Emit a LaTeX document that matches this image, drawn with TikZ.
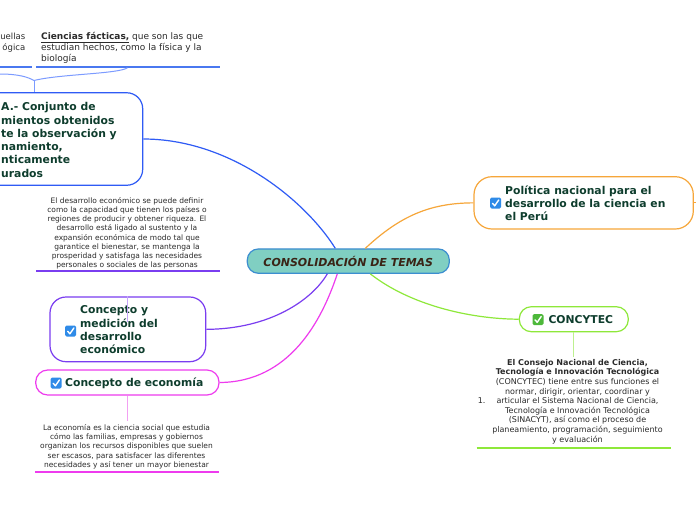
\documentclass[tikz,border=0pt]{standalone}
\usepackage{fontspec}
\setmainfont{DejaVu Sans}
\definecolor{cblue}{HTML}{2F5BF5}
\definecolor{lblue}{HTML}{7C9BFF}
\definecolor{ublue}{HTML}{4A78F0}
\definecolor{cpurp}{HTML}{7A3DF0}
\definecolor{lpurp}{HTML}{C6A6FA}
\definecolor{cmag}{HTML}{EE3BEE}
\definecolor{lmag}{HTML}{F2A0F2}
\definecolor{corange}{HTML}{F6A63A}
\definecolor{cgreen}{HTML}{8EE83A}
\definecolor{lgreen}{HTML}{BDF08F}
\definecolor{cenfill}{HTML}{80CFC2}
\definecolor{cenline}{HTML}{3C8ED0}
\definecolor{centxt}{HTML}{3A2416}
\definecolor{ntxt}{HTML}{0E3D2D}
\definecolor{stxt}{HTML}{2B2B2B}
\definecolor{chkblue}{HTML}{2F8BE8}
\definecolor{chkgreen}{HTML}{4DB83A}
\tikzset{
  pics/chkbox/.style={code={
    \fill[#1, rounded corners=1.5pt] (-5.5,-5.5) rectangle (5.5,5.5);
    \draw[white, line width=1.4pt, line cap=round, line join=round] (-3,0.3) -- (-0.8,2.8) -- (3.2,-3);
  }},
}
\begin{document}
\begin{tikzpicture}[x=1pt,y=-1pt,
  box/.style={rounded corners=#1, line width=1.2pt, fill=white, inner sep=0pt},
  ntext/.style={font=\fontsize{10.8}{13.3}\selectfont\bfseries, text=ntxt, align=left, inner sep=0pt},
  small/.style={font=\fontsize{7.5}{9.2}\selectfont, text=stxt, align=center, inner sep=0pt},
  conn/.style={line width=1.2pt},
  uline/.style={line width=2pt},
  thinc/.style={line width=1pt},
]
\useasboundingbox (0,0) rectangle (696,520);
\fill[white] (0,0) rectangle (696,520);
\clip (0,0) rectangle (696,520);

% central node
\node[box=11pt, draw=cenline, fill=cenfill, minimum width=202pt, minimum height=24.3pt,
      font=\fontsize{11}{12}\selectfont\bfseries\itshape, text=centxt] (central) at (348.3,261.1) {CONSOLIDACIÓN DE TEMAS};

% top-left boxes
\node[box=16pt, draw=cblue, minimum width=220pt, minimum height=92.5pt, anchor=east] (ciencia) at (143.3,139) {};
\node[ntext, anchor=west] (cienciatxt) at (1,140) {A.- Conjunto de\\mientos obtenidos\\te la observación y\\namiento,\\nticamente\\urados};

\node[anchor=east, align=right, font=\fontsize{8.5}{11.3}\selectfont, text=stxt, inner sep=0pt] (formales) at (25.5,42.5) {uellas\\ógica};
\node[anchor=west, align=left, font=\fontsize{9}{11.2}\selectfont, text=stxt, inner sep=0pt] (facticas) at (41,47.8)
  {\underline{\textbf{Ciencias fácticas,}} que son las que\\estudian hechos, como la física y la\\biología};
\draw[uline, ublue] (0,66.7) -- (31.7,66.7);
\draw[uline, ublue] (36,66.7) -- (220,66.7);
\coordinate (jn) at (34,80.5);
\draw[thinc, lblue] (127.5,67.8) .. controls (118,74) and (60,74) .. (jn);
\draw[thinc, lblue] (0,74) .. controls (18,74) and (28,77) .. (jn);
\draw[thinc, lblue] (jn) -- (jn |- ciencia.north);

% desarrollo
\node[small] (desarrollotxt) at (127,233.3) {El desarrollo económico se puede definir\\como la capacidad que tienen los países o\\regiones de producir y obtener riqueza. El\\desarrollo está ligado al sustento y la\\expansión económica de modo tal que\\garantice el bienestar, se mantenga la\\prosperidad y satisfaga las necesidades\\personales o sociales de las personas};
\draw[uline, cpurp] (36,270.7) -- (220,270.7);

\node[box=16pt, draw=cpurp, minimum width=155.7pt, minimum height=64.7pt] (medicion) at (127.85,329.35) {};
\pic at (70.7,331) {chkbox=chkblue};
\node[ntext, anchor=west] (mediciontxt) at (80,330) {Concepto y\\medición del\\desarrollo\\económico};
\draw[thinc, lpurp] ([yshift=-26pt]medicion.north) -- (medicion.north);

% economia
\node[box=12pt, draw=cmag, minimum width=183.3pt, minimum height=25pt] (economia) at (127.35,382.5) {};
\pic at (56.2,383) {chkbox=chkblue};
\node[ntext, anchor=west] (economiatxt) at (65,383) {Concepto de economía};
\draw[thinc, lmag] (economia.south) -- ++(0,25);
\node[small] (economiadef) at (126.5,446.7) {La economía es la ciencia social que estudia\\cómo las familias, empresas y gobiernos\\organizan los recursos disponibles que suelen\\ser escasos, para satisfacer las diferentes\\necesidades y así tener un mayor bienestar};
\draw[uline, cmag] (35,471.7) -- (219.3,471.7);

% politica
\node[box=18pt, draw=corange, minimum width=219.3pt, minimum height=52.3pt] (politica) at (583.65,202.85) {};
\pic at (495.5,203) {chkbox=chkblue};
\node[ntext, anchor=west] (politicatxt) at (505,203.3) {Política nacional para el\\desarrollo de la ciencia en\\el Perú};
\draw[thinc, corange] (politica.east) -- ++(6,0);

% concytec
\node[box=12pt, draw=cgreen, minimum width=109pt, minimum height=25pt] (concytec) at (573.8,319.2) {};
\pic at (538,319.5) {chkbox=chkgreen};
\node[ntext, anchor=west] (concytectxt) at (548.3,319.2) {CONCYTEC};
\draw[thinc, lgreen] (concytec.south) -- ++(0,25);
\node[small, font=\fontsize{8}{9.6}\selectfont] (concytecdef) at (577.5,401.5) {\textbf{El Consejo Nacional de Ciencia,}\\\textbf{Tecnología e Innovación Tecnológica}\\(CONCYTEC) tiene entre sus funciones el\\normar, dirigir, orientar, coordinar y\\\llap{1.\hspace{11pt}}articular el Sistema Nacional de Ciencia,\\Tecnología e Innovación Tecnológica\\(SINACYT), así como el proceso de\\planeamiento, programación, seguimiento\\y evaluación};
\draw[uline, cgreen] (476.7,447.7) -- (671,447.7);

% main connectors
\draw[conn, cblue] (ciencia.east) .. controls (230,139) and (305,200) .. ([xshift=-13pt]central.north);
\draw[conn, cpurp] (medicion.east) .. controls (270,329) and (312,300) .. ([xshift=-21pt]central.south);
\draw[conn, cmag] (economia.east) .. controls (290,382) and (322,320) .. ([xshift=-11pt]central.south);
\draw[conn, corange] ([xshift=17pt]central.north) .. controls (400,216) and (430,203) .. (politica.west);
\draw[conn, cgreen] ([xshift=22pt]central.south) .. controls (410,305) and (470,319) .. (concytec.west);
\end{tikzpicture}
\end{document}
